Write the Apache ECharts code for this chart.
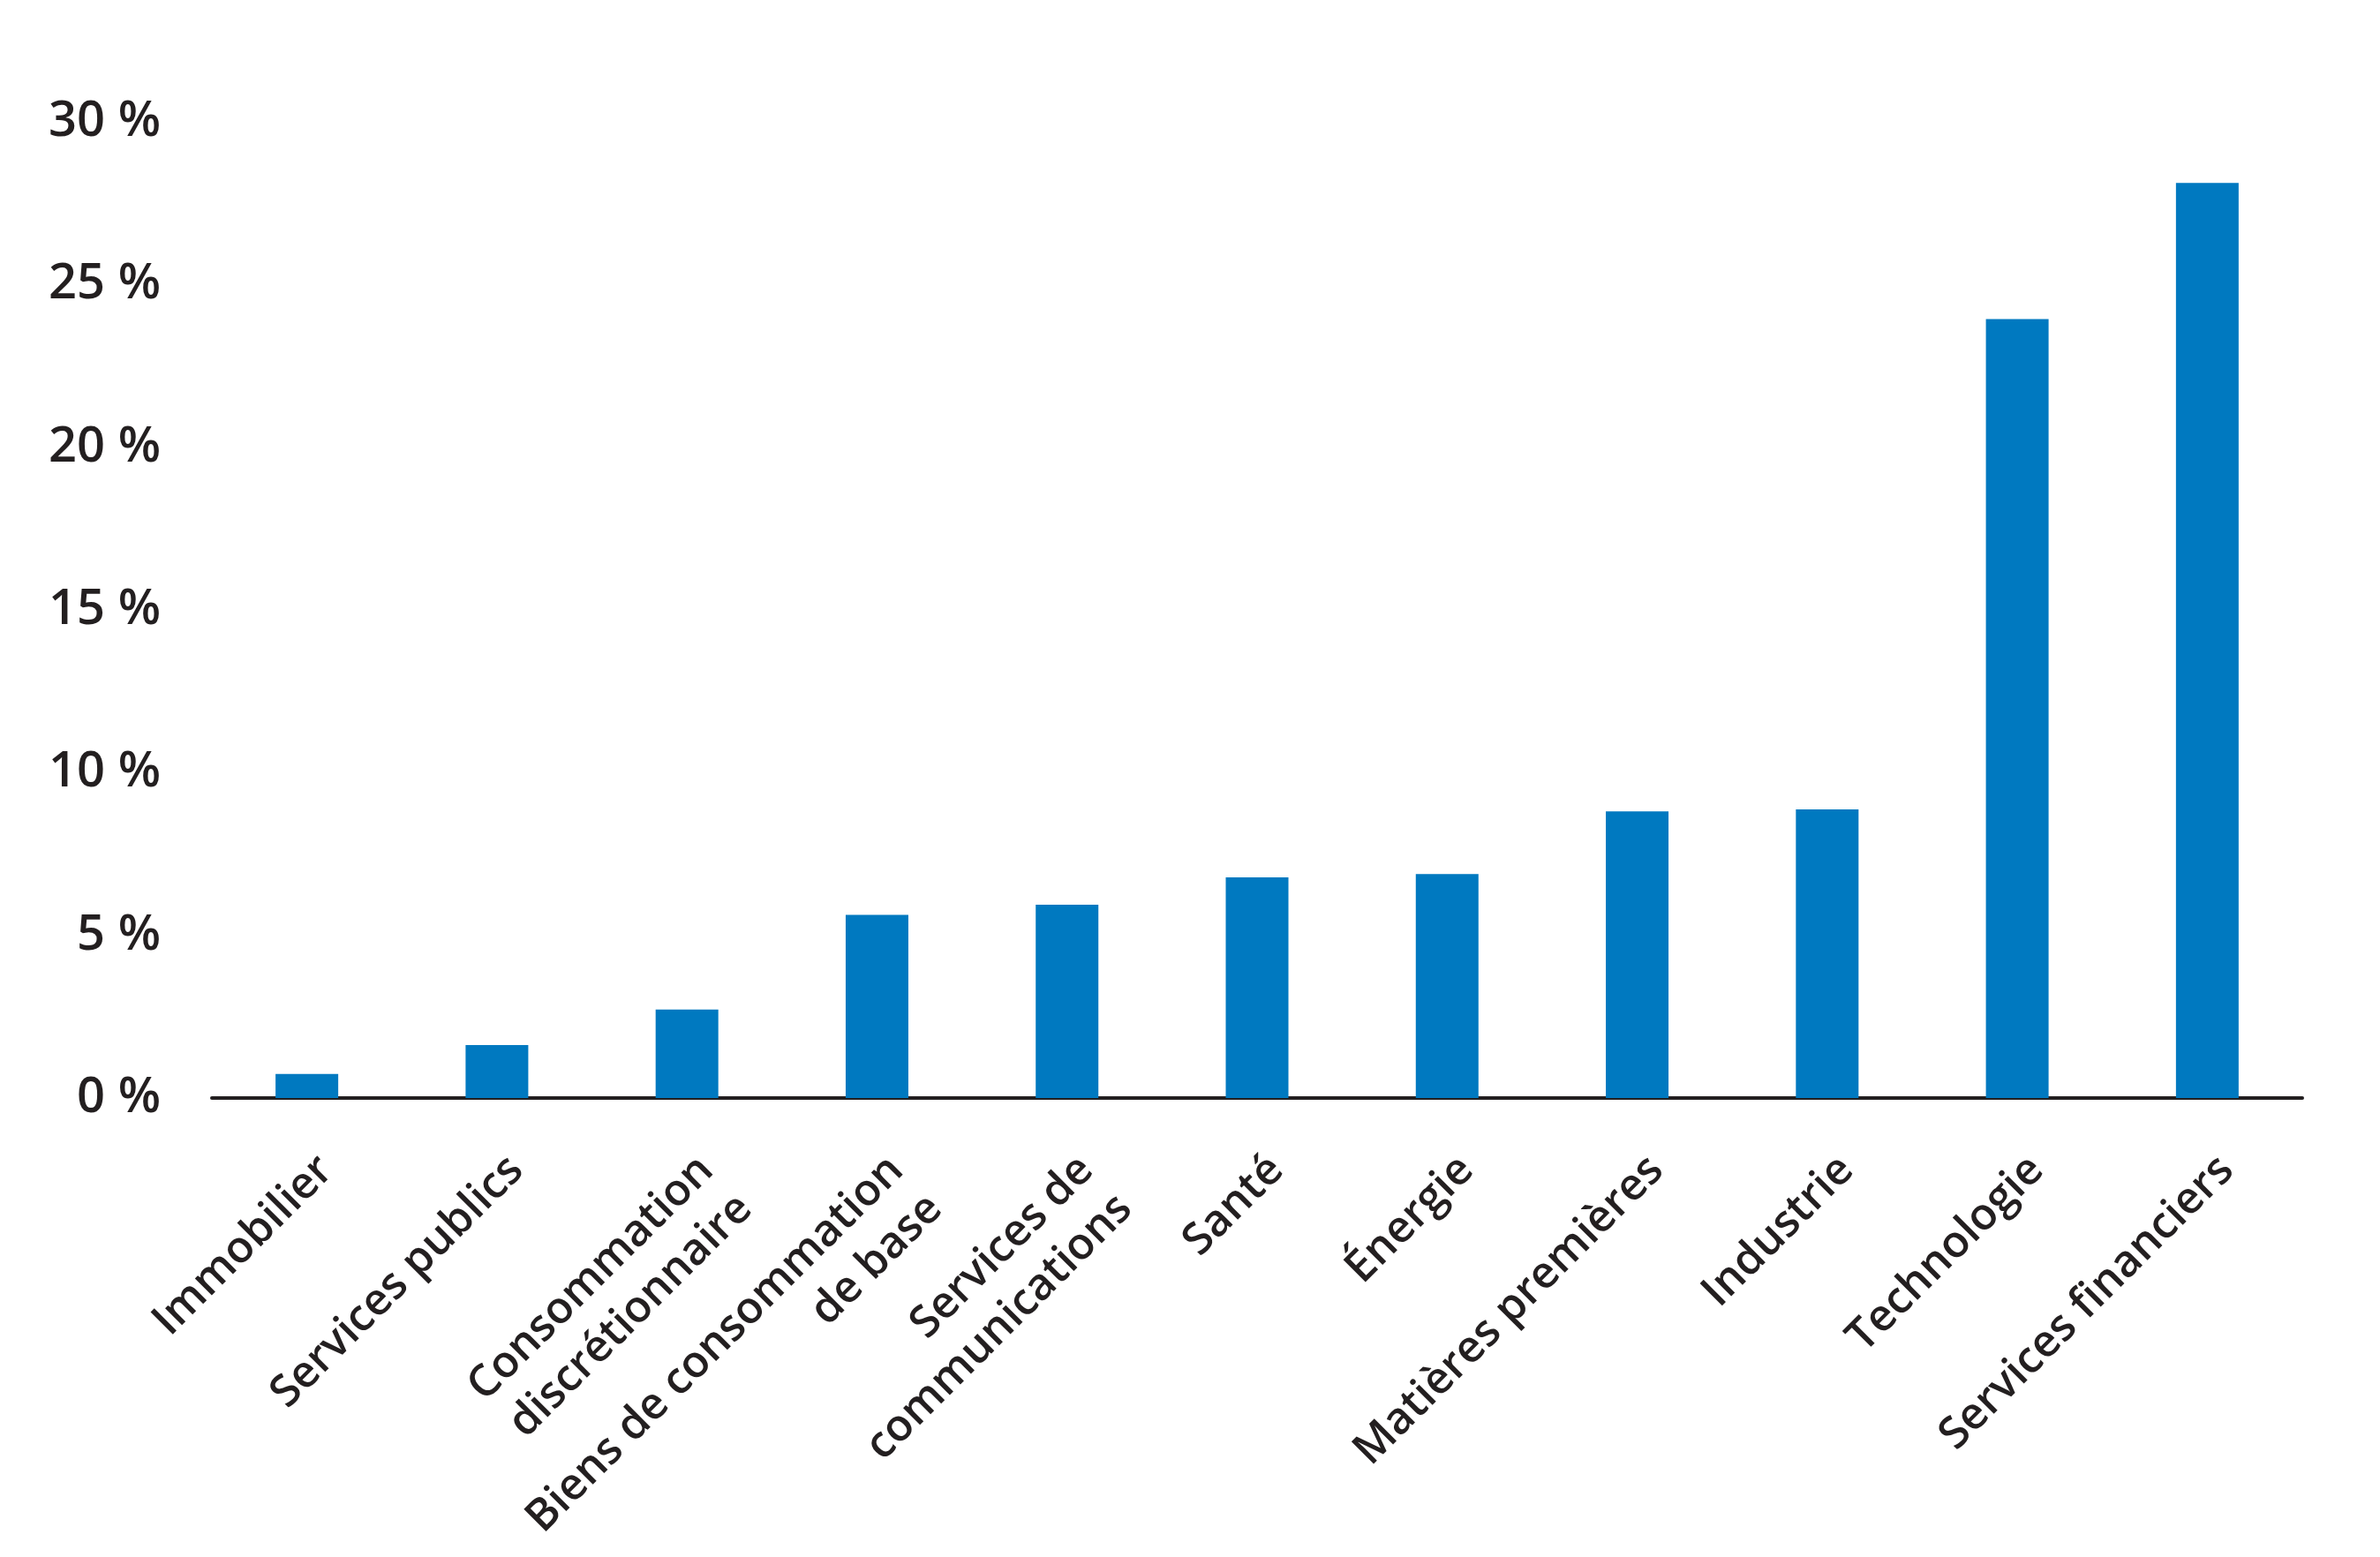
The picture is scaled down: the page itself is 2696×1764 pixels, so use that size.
<!DOCTYPE html>
<html>
<head>
<meta charset="utf-8">
<script src="https://cdn.jsdelivr.net/npm/echarts@6/dist/echarts.min.js"></script>
<style>
html,body{margin:0;padding:0;background:#fff;}
#chart{width:2696px;height:1764px;}
</style>
</head>
<body>
<div id="chart"></div>
<script>
const categories = [
  "Immobilier",
  "Services publics",
  "Consommation\ndiscrétionnaire",
  "Biens de consommation\nde base",
  "Services de\ncommunications",
  "Santé",
  "Énergie",
  "Matières premières",
  "Industrie",
  "Technologie",
  "Services financiers"
];
const values = [0.74, 1.63, 2.72, 5.63, 5.94, 6.78, 6.88, 8.81, 8.87, 23.94, 28.12];
const yMin = 0, yMax = 30, yStep = 5;

const chart = echarts.init(document.getElementById('chart'));
chart.setOption({
  animation: false,
  backgroundColor: '#ffffff',
  grid: { left: 240, right: 88, top: 138, bottom: 520, containLabel: false, outerBoundsMode: 'none' },
  xAxis: {
    type: 'category',
    data: categories,
    axisLine: { show: true, lineStyle: { color: '#231f20', width: 4 } },
    axisTick: { show: false },
    axisLabel: {
      interval: 0,
      rotate: 45,
      align: 'right',
      verticalAlign: 'top',
      margin: 52,
      fontFamily: 'Open Sans',
      fontWeight: 600,
      fontSize: 50,
      lineHeight: 62,
      color: '#231f20'
    }
  },
  yAxis: {
    type: 'value',
    min: yMin, max: yMax, interval: yStep,
    axisLine: { show: false },
    axisTick: { show: false },
    splitLine: { show: false },
    axisLabel: {
      formatter: v => v + ' %',
      margin: 58,
      fontFamily: 'Open Sans',
      fontWeight: 600,
      fontSize: 56,
      color: '#231f20'
    }
  },
  series: [{
    type: 'bar',
    data: values,
    barWidth: 71,
    itemStyle: { color: '#0079c0' }
  }]
});
</script>
</body>
</html>
